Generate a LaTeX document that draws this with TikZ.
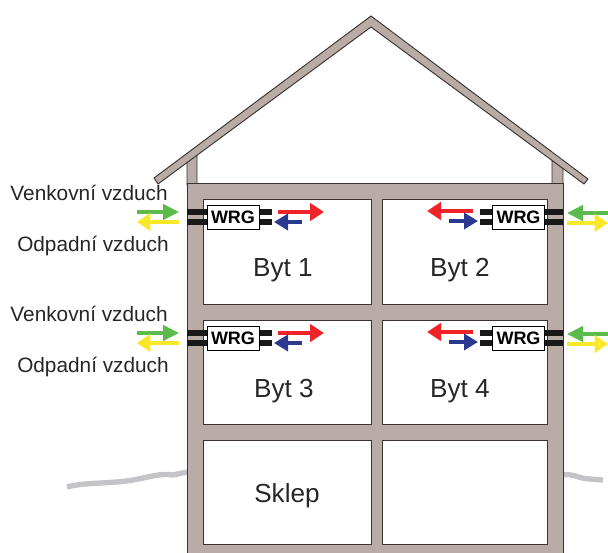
\documentclass[tikz,border=0pt]{standalone}
\usepackage{fontspec}
\setmainfont{Liberation Sans}
\usetikzlibrary{arrows.meta}
\definecolor{wallc}{HTML}{B9ABA5}
\definecolor{wallline}{HTML}{3A3331}
\definecolor{groundc}{HTML}{C4C4C8}
\definecolor{greenc}{HTML}{5CB94C}
\definecolor{yellowc}{HTML}{F7E92A}
\definecolor{redc}{HTML}{EE2429}
\definecolor{bluec}{HTML}{2B3990}
\tikzset{
  wall/.style={fill=wallc, draw=wallline, line width=0.7pt},
  pipe/.style={draw=black!90, line width=4pt},
  wrgbox/.style={draw=black, fill=white, line width=0.7pt, minimum width=39pt, minimum height=18pt,
    inner sep=0pt, font=\fontsize{13.5}{14}\selectfont\bfseries},
  airlabel/.style={anchor=east, inner sep=0pt, font=\fontsize{15.6}{16}\selectfont, text=black!85},
  roomlabel/.style={inner sep=0pt, font=\fontsize{19.6}{20}\selectfont, text=black!85},
  ground/.style={draw=groundc, line width=4pt, line join=round},
  airgreen/.style={-{Triangle[length=12pt,width=11.5pt]}, draw=greenc, fill=greenc, line width=2.6pt},
  airyellow/.style={-{Triangle[length=10pt,width=13pt]}, draw=yellowc, fill=yellowc, line width=2.6pt},
  airred/.style={-{Triangle[length=10.5pt,width=13pt]}, draw=redc, fill=redc, line width=2.6pt},
  airblue/.style={-{Triangle[length=10.5pt,width=12pt]}, draw=bluec, fill=bluec, line width=2.6pt}
}
\begin{document}
\begin{tikzpicture}[x=0.75pt,y=-0.75pt]
    \useasboundingbox (0,0) rectangle (608,553);

    % Terrain
    \draw[ground] (67,487) .. controls (85,482) and (110,484) .. (133,480)
        .. controls (150,477) and (160,473) .. (173,475) -- (187,472);
    \draw[ground] (563,475) .. controls (572,473) and (580,479) .. (590,479) -- (603,480);

    % Attic posts
    \draw[wall] (187,185) -- (187,162) -- (197,155) -- (197,185) -- cycle;
    \draw[wall] (563,185) -- (563,168) -- (552,160) -- (552,185) -- cycle;

    % Roof
    \draw[wall] (154,178) -- (371,16) -- (588,179) -- (584,184) -- (371,27) -- (158,184) -- cycle;

    % Walls and floors
    \draw[wall, even odd rule] (187,183) rectangle (563,553)
        (203,199) rectangle (371,304) (382,199) rectangle (547,304)
        (203,320) rectangle (371,424) (382,320) rectangle (547,424)
        (203,440) rectangle (371,544) (382,440) rectangle (547,544);

    % Ventilation, one row per storey
    \foreach \row/\dy in {a/0,b/121} {
      \begin{scope}[yshift=-\dy*0.75pt]
        \draw[pipe] (187,212) -- (207,212);
        \draw[pipe] (187,222) -- (207,222);
        \draw[pipe] (259,212) -- (272,212);
        \draw[pipe] (259,222) -- (272,222);
        \draw[pipe] (480,212) -- (492,212);
        \draw[pipe] (480,222) -- (492,222);
        \draw[pipe] (545,212) -- (563,212);
        \draw[pipe] (545,222) -- (563,222);
        \node[wrgbox] (wrgl\row) at (233,217) {WRG};
        \node[wrgbox] (wrgr\row) at (518.5,217) {WRG};
        \draw[airgreen] (137,212) -- (179,212);
        \draw[airyellow] (179,222) -- (137,222);
        \draw[airred] (278,212) -- (324,212);
        \draw[airblue] (302,222) -- (274,222);
        \draw[airred] (473,211) -- (427,211);
        \draw[airblue] (449,221) -- (478,221);
        \draw[airgreen] (610,213) -- (567,213);
        \draw[airyellow] (567,223) -- (608,223);
        \node[airlabel] (venk\row) at (168,193) {Venkovní vzduch};
        \node[airlabel] (odp\row) at (169,246) {Odpadní vzduch};
      \end{scope}
    }

    % Rooms
    \node[roomlabel] (byt1) at (283,270) {Byt 1};
    \node[roomlabel] (byt2) at (460,270) {Byt 2};
    \node[roomlabel] (byt3) at (284,391) {Byt 3};
    \node[roomlabel] (byt4) at (460,391) {Byt 4};
    \node[roomlabel] (sklep) at (287,496) {Sklep};
\end{tikzpicture}
\end{document}
